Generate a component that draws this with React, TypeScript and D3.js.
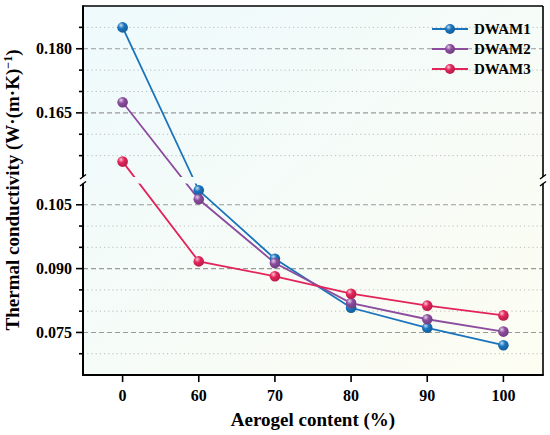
import React from "react";
import * as d3 from "d3";

const categories = ["0", "60", "70", "80", "90", "100"];
const dwam1 = [0.1850, 0.1084, 0.0923, 0.0808, 0.0761, 0.0720];
const dwam2 = [0.1675, 0.1063, 0.0913, 0.0819, 0.0781, 0.0752];
const dwam3 = [0.1536, 0.0917, 0.0882, 0.0841, 0.0813, 0.0790];
const seriesNames = ["DWAM1", "DWAM2", "DWAM3"];
const seriesColors = ["#1a74bd", "#8c4d9f", "#e3245a"];
const upperMajor = [0.165, 0.18];
const upperMinor = [0.155, 0.16, 0.17, 0.175, 0.185];
const lowerMajor = [0.075, 0.09, 0.105];
const lowerMinor = [0.07, 0.08, 0.085, 0.095, 0.1];
const breakValue = 0.15;

const W = 550, H = 435;
const L = 83, R = 543, T = 6, B = 375;
const gapTop = 177, gapBot = 183.5;

const x = d3.scalePoint<string>().domain(categories).range([L, R]).padding(0.52);
const yUp = d3.scaleLinear().domain([0.15, 0.19]).range([gapTop, T]);
const yLo = d3.scaleLinear().domain([0.065, 0.11]).range([B, gapBot]);
const yv = (v: number) => (v >= breakValue ? yUp(v) : yLo(v));

const FONT = "Liberation Serif";

function lighten(c: string, k: number) {
  return d3.interpolateRgb(c, "#ffffff")(k);
}
function darken(c: string, k: number) {
  return d3.rgb(c).darker(k).formatHex();
}

export default function App() {
  const series = [dwam1, dwam2, dwam3];
  const line = d3.line<number>().x((_, i) => x(categories[i]) as number).y((d) => yv(d));
  const fmt = d3.format(".3f");
  const ts = { fontFamily: FONT, fontWeight: 700 } as React.CSSProperties;
  return (
    <svg width={W} height={H} style={{ position: "absolute", left: 0, top: 0 }}>
      <defs>
        <linearGradient id="bg" x1="0" y1="0" x2="1" y2="1">
          <stop offset="0%" stopColor="#eefafd" />
          <stop offset="100%" stopColor="#fdfdf2" />
        </linearGradient>
        {seriesColors.map((c, i) => (
          <radialGradient key={i} id={`ball${i}`} cx="38%" cy="35%" r="65%" fx="35%" fy="30%">
            <stop offset="0%" stopColor={lighten(c, 0.75)} />
            <stop offset="45%" stopColor={c} />
            <stop offset="100%" stopColor={darken(c, 0.6)} />
          </radialGradient>
        ))}
        <clipPath id="lineclip">
          <rect x={L} y={T} width={R - L} height={gapTop - T} />
          <rect x={L} y={gapBot} width={R - L} height={B - gapBot} />
        </clipPath>
      </defs>
      <rect x={L} y={T} width={R - L} height={B - T} fill="url(#bg)" />
      {upperMinor.map((v) => (
        <line key={"um" + v} x1={L} x2={R} y1={yUp(v)} y2={yUp(v)} stroke="#bdbdbd" strokeWidth={1} strokeDasharray="1.2,3" />
      ))}
      {lowerMinor.map((v) => (
        <line key={"lm" + v} x1={L} x2={R} y1={yLo(v)} y2={yLo(v)} stroke="#bdbdbd" strokeWidth={1} strokeDasharray="1.2,3" />
      ))}
      {upperMajor.map((v) => (
        <line key={"uM" + v} x1={L} x2={R} y1={yUp(v)} y2={yUp(v)} stroke="#9a9a9a" strokeWidth={1.1} strokeDasharray="5,3" />
      ))}
      {lowerMajor.map((v) => (
        <line key={"lM" + v} x1={L} x2={R} y1={yLo(v)} y2={yLo(v)} stroke="#9a9a9a" strokeWidth={1.1} strokeDasharray="5,3" />
      ))}
      <g clipPath="url(#lineclip)">
        {series.map((s, i) => (
          <path key={i} d={line(s) || ""} fill="none" stroke={seriesColors[i]} strokeWidth={1.8} />
        ))}
      </g>
      {series.map((s, i) => (
        <g key={i}>
          {s.map((v, j) => (
            <circle key={j} cx={x(categories[j]) as number} cy={yv(v)} r={5.3} fill={`url(#ball${i})`} />
          ))}
        </g>
      ))}
      <g stroke="#000" fill="none">
        <line x1={L} x2={R} y1={T} y2={T} strokeWidth={1.6} />
        <line x1={R} x2={R} y1={T} y2={gapTop} strokeWidth={1.6} />
        <line x1={R} x2={R} y1={gapBot} y2={B} strokeWidth={1.6} />
        <line x1={L} x2={L} y1={T - 0.8} y2={gapTop} strokeWidth={2} />
        <line x1={L} x2={L} y1={gapBot} y2={B + 1} strokeWidth={2} />
        <line x1={L - 1} x2={R + 0.8} y1={B} y2={B} strokeWidth={2} />
        {[L, R].map((xx) => (
          <g key={xx}>
            <line x1={xx - 3} x2={xx + 3} y1={gapTop + 2} y2={gapTop - 2.5} strokeWidth={1.4} />
            <line x1={xx - 3} x2={xx + 3} y1={gapBot + 2.5} y2={gapBot - 2} strokeWidth={1.4} />
          </g>
        ))}
      </g>
      <g stroke="#000" strokeWidth={1.6}>
        {upperMajor.map((v) => <line key={"a" + v} x1={L - 7} x2={L} y1={yUp(v)} y2={yUp(v)} />)}
        {lowerMajor.map((v) => <line key={"b" + v} x1={L - 7} x2={L} y1={yLo(v)} y2={yLo(v)} />)}
        {upperMinor.map((v) => <line key={"c" + v} x1={L - 4} x2={L} y1={yUp(v)} y2={yUp(v)} />)}
        {lowerMinor.map((v) => <line key={"d" + v} x1={L - 4} x2={L} y1={yLo(v)} y2={yLo(v)} />)}
        {categories.map((c) => <line key={"x" + c} x1={x(c) as number} x2={x(c) as number} y1={B} y2={B + 7} />)}
      </g>
      <g fill="#000" style={{ ...ts, fontSize: 16 }}>
        {upperMajor.map((v) => (
          <text key={"ta" + v} x={72} y={yUp(v)} dy="0.35em" textAnchor="end">{fmt(v)}</text>
        ))}
        {lowerMajor.map((v) => (
          <text key={"tb" + v} x={72} y={yLo(v)} dy="0.35em" textAnchor="end">{fmt(v)}</text>
        ))}
        {categories.map((c) => (
          <text key={"tx" + c} x={x(c) as number} y={400.5} textAnchor="middle">{c}</text>
        ))}
      </g>
      <text x={(L + R) / 2} y={426} textAnchor="middle" style={{ ...ts, fontSize: 19 }}>Aerogel content (%)</text>
      <text transform={`translate(19,190) rotate(-90)`} textAnchor="middle" style={{ ...ts, fontSize: 19 }}>
        Thermal conductivity (W·(m·K)<tspan fontSize={12} dy={-7}>−1</tspan><tspan dy={7}>)</tspan>
      </text>
      {seriesNames.map((n, i) => {
        const yy = 29 + i * 20;
        return (
          <g key={n}>
            <line x1={432} x2={468} y1={yy} y2={yy} stroke={seriesColors[i]} strokeWidth={1.8} />
            <circle cx={450} cy={yy} r={5} fill={`url(#ball${i})`} />
            <text x={474} y={yy} dy="0.33em" style={{ ...ts, fontSize: 15 }}>{n}</text>
          </g>
        );
      })}
    </svg>
  );
}
